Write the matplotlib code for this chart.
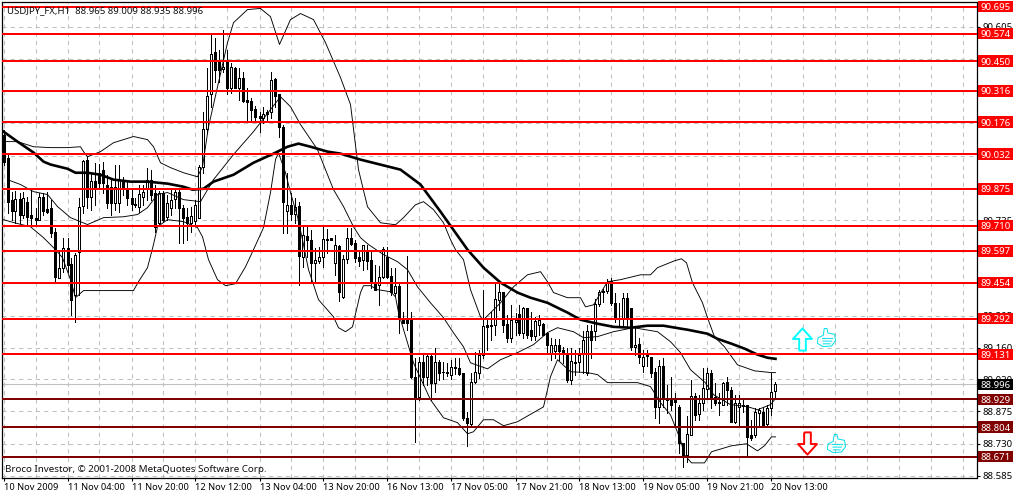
import matplotlib
matplotlib.use('Agg')
import matplotlib.pyplot as plt
from matplotlib.path import Path
from matplotlib.patches import Rectangle

# USDJPY H1 candles
opens = [90.120,90.016,89.827,89.778,89.832,89.760,89.818,89.760,89.746,89.737,
         89.841,89.787,89.791,89.683,89.476,89.521,89.611,89.539,89.399,89.593,
         89.800,90.007,89.841,89.913,89.949,89.962,89.895,89.886,89.814,89.814,
         89.908,89.872,89.836,89.809,89.796,89.841,89.877,89.917,89.859,89.724,
         89.859,89.751,89.791,89.832,89.863,89.791,89.751,89.724,89.733,89.746,
         89.976,90.147,90.300,90.493,90.457,90.416,90.452,90.327,90.421,90.331,
         90.376,90.277,90.272,90.236,90.205,90.192,90.223,90.219,90.371,90.300,
         90.155,89.778,89.805,89.764,89.800,89.570,89.665,89.647,89.543,89.552,
         89.570,89.651,89.656,89.543,89.620,89.391,89.562,89.656,89.634,89.570,
         89.557,89.593,89.557,89.454,89.445,89.481,89.570,89.485,89.408,89.440,
         89.287,89.287,89.287,89.031,88.941,89.098,89.031,89.125,89.004,89.098,
         89.053,89.053,89.040,89.071,89.071,89.049,88.846,88.819,89.008,89.049,
         89.130,89.264,89.264,89.264,89.377,89.413,89.269,89.206,89.278,89.314,
         89.228,89.341,89.242,89.215,89.264,89.269,89.228,89.139,89.148,89.175,
         89.152,89.130,89.017,89.094,89.098,89.139,89.049,89.237,89.237,89.359,
         89.413,89.418,89.463,89.364,89.296,89.291,89.386,89.341,89.166,89.179,
         89.080,89.130,89.121,89.053,88.895,89.080,88.936,88.936,88.932,88.895,
         88.733,88.679,88.770,88.945,88.864,88.914,88.977,89.049,88.941,88.918,
         88.905,89.008,88.972,88.828,88.895,88.905,88.905,88.770,88.770,88.869,
         88.873,88.819,88.891,88.965]
highs = [90.142,90.030,89.863,89.868,89.859,89.863,89.841,89.872,89.791,89.859,
         89.859,89.863,89.827,89.701,89.602,89.656,89.656,89.566,89.588,89.836,
         90.007,90.020,89.949,89.994,89.989,89.998,89.939,89.926,89.985,89.985,
         89.930,89.913,89.872,89.836,89.895,89.895,89.971,89.962,89.895,89.868,
         89.868,89.850,89.872,89.881,89.872,89.805,89.791,89.796,89.827,89.985,
         90.219,90.421,90.570,90.552,90.502,90.592,90.502,90.443,90.425,90.421,
         90.403,90.331,90.286,90.250,90.219,90.245,90.232,90.403,90.376,90.300,
         90.165,89.949,89.859,89.836,89.818,89.706,89.706,89.692,89.611,89.615,
         89.706,89.697,89.656,89.670,89.625,89.580,89.701,89.701,89.647,89.602,
         89.625,89.625,89.602,89.535,89.530,89.615,89.615,89.521,89.521,89.458,
         89.323,89.575,89.323,89.116,89.120,89.138,89.138,89.129,89.161,89.107,
         89.098,89.094,89.107,89.116,89.116,89.049,88.873,89.049,89.143,89.152,
         89.422,89.296,89.323,89.454,89.454,89.413,89.309,89.355,89.318,89.355,
         89.346,89.341,89.323,89.300,89.309,89.273,89.233,89.206,89.201,89.201,
         89.166,89.161,89.161,89.152,89.161,89.237,89.264,89.264,89.381,89.422,
         89.427,89.472,89.476,89.409,89.364,89.409,89.409,89.341,89.251,89.206,
         89.152,89.152,89.121,89.071,89.107,89.116,88.995,89.031,88.959,88.905,
         88.733,88.855,89.017,88.959,88.950,89.071,89.071,89.062,89.004,88.959,
         89.008,89.031,88.986,88.950,88.950,88.927,88.905,88.837,88.891,88.891,
         88.895,88.905,89.049,89.009]
lows = [89.985,89.769,89.737,89.724,89.724,89.746,89.715,89.715,89.715,89.737,
        89.760,89.769,89.661,89.458,89.476,89.503,89.503,89.309,89.278,89.399,
        89.769,89.791,89.782,89.805,89.881,89.859,89.791,89.760,89.782,89.773,
        89.850,89.805,89.782,89.796,89.773,89.805,89.827,89.827,89.683,89.715,
        89.728,89.737,89.760,89.791,89.633,89.633,89.647,89.683,89.715,89.746,
        89.949,90.129,90.245,90.358,90.358,90.403,90.300,90.308,90.327,90.277,
        90.268,90.178,90.178,90.183,90.133,90.174,90.178,90.196,90.245,90.111,
        89.678,89.678,89.737,89.724,89.445,89.525,89.570,89.458,89.458,89.543,
        89.525,89.588,89.647,89.490,89.373,89.386,89.543,89.625,89.548,89.530,
        89.512,89.516,89.431,89.422,89.355,89.476,89.476,89.399,89.395,89.228,
        89.273,89.242,89.026,88.738,88.927,88.995,88.995,88.927,88.963,89.017,
        89.022,89.035,89.022,89.044,89.040,88.837,88.720,88.815,89.004,89.026,
        89.116,89.152,89.197,89.219,89.332,89.233,89.188,89.188,89.219,89.219,
        89.206,89.206,89.197,89.197,89.219,89.219,89.139,89.107,89.116,89.107,
        89.094,89.008,88.999,89.040,89.053,89.049,89.040,89.116,89.197,89.350,
        89.368,89.409,89.355,89.278,89.255,89.255,89.255,89.152,89.130,89.094,
        89.053,89.080,89.031,88.846,88.823,88.895,88.869,88.882,88.806,88.689,
        88.626,88.648,88.770,88.837,88.837,88.882,88.932,88.891,88.905,88.860,
        88.905,88.905,88.828,88.823,88.806,88.873,88.675,88.747,88.761,88.814,
        88.814,88.814,88.860,88.935]
closes = [89.998,89.818,89.778,89.832,89.760,89.836,89.751,89.746,89.737,89.841,
          89.778,89.773,89.679,89.481,89.521,89.611,89.535,89.377,89.580,89.796,
          90.003,89.841,89.913,89.881,89.904,89.904,89.814,89.814,89.886,89.917,
          89.877,89.836,89.809,89.805,89.854,89.863,89.917,89.850,89.706,89.859,
          89.737,89.814,89.827,89.863,89.791,89.746,89.724,89.755,89.805,89.976,
          90.147,90.295,90.484,90.408,90.412,90.425,90.327,90.425,90.331,90.376,
          90.272,90.268,90.232,90.200,90.192,90.214,90.210,90.367,90.291,90.155,
          89.818,89.805,89.764,89.796,89.575,89.670,89.647,89.543,89.557,89.570,
          89.651,89.647,89.647,89.625,89.413,89.562,89.656,89.629,89.566,89.552,
          89.625,89.552,89.454,89.422,89.481,89.606,89.481,89.413,89.440,89.296,
          89.273,89.273,89.031,88.941,89.098,89.031,89.125,89.004,89.098,89.049,
          89.050,89.049,89.076,89.076,89.044,88.846,88.823,89.008,89.053,89.130,
          89.260,89.255,89.260,89.381,89.413,89.264,89.206,89.287,89.287,89.228,
          89.341,89.219,89.215,89.282,89.287,89.219,89.175,89.175,89.175,89.148,
          89.134,89.017,89.103,89.098,89.130,89.197,89.237,89.197,89.359,89.413,
          89.418,89.458,89.364,89.296,89.291,89.386,89.296,89.166,89.175,89.121,
          89.121,89.125,89.049,88.895,89.080,88.936,88.927,88.905,88.918,88.733,
          88.670,88.774,88.945,88.860,88.914,88.981,89.049,88.932,88.914,88.914,
          89.004,88.972,88.828,88.914,88.914,88.900,88.761,88.756,88.873,88.882,
          88.814,88.891,88.963,88.996]

# thick moving average
ma_bars = [0,3.5,7.5,10,11.75,16,18,21,24.25,27.5,31.75,36,41,45,47.25,50,52.5,57.5,62.5,67.5,71,73.75,76.75,81,84.25,
           89.25,99.25,104.25,109.25,116,120,124.25,128.5,131.75,136,141,144.25,148.5,152.5,156.75,161,165,169.25,171,
           176,178.5,182,185.25,188.5,191,193]
ma_vals = [90.133,90.088,90.039,89.998,89.985,89.966,89.948,89.948,89.939,89.917,89.908,89.908,89.899,89.885,89.872,
           89.876,89.908,89.939,89.993,90.034,90.065,90.079,90.065,90.043,90.034,90.007,89.962,89.895,89.773,89.602,
           89.521,89.454,89.409,89.386,89.363,89.319,89.287,89.269,89.255,89.251,89.260,89.260,89.247,89.242,89.224,
           89.201,89.179,89.157,89.130,89.116,89.111]

# bollinger bands
up_bars = [0,3.5,7.5,11.75,16,19.25,20,21,24.25,27.5,32.5,36,37.5,39.25,41.75,45,48.5,49.75,51.25,56,57.5,61,64.25,66.75,
           69,71.75,74.25,77.5,80.5,84.25,86.75,88.75,91,94.25,98,100,103,105,107.5,110,111.75,113,115,116.75,119.25,120,
           124.25,127.5,131,134.25,136,137.5,141,144.25,145.5,147.5,151,154.25,159.25,161.75,163.5,167.75,169.5,170.75,
           172.25,174.75,176,177.75,180.25,183.5,187.75,192,193]
up_vals = [90.088,90.088,90.065,90.061,90.061,90.065,90.043,90.020,90.043,90.083,90.111,90.097,90.065,89.993,89.971,
           89.948,89.930,89.975,90.155,90.533,90.623,90.682,90.687,90.650,90.525,90.637,90.664,90.637,90.533,90.376,
           90.255,89.962,89.795,89.723,89.714,89.746,89.804,89.818,89.782,89.723,89.647,89.602,89.557,89.422,89.300,
           89.287,89.363,89.435,89.489,89.503,89.458,89.409,89.386,89.386,89.345,89.354,89.458,89.467,89.489,89.489,
           89.521,89.552,89.561,89.543,89.453,89.363,89.296,89.210,89.165,89.084,89.057,89.049,89.049]
mid_bars = [1,4.25,7.5,11,13.5,16.75,21,25,30,33.5,36,38.5,41,45,49.25,52.5,57.5,62.5,66.75,69.25,71.75,74.25,78.5,82.5,85,
            87.5,89.25,91.25,95,98.5,101,103.5,106.75,110,112.5,115,116.75,121,124.25,128.5,132.5,136,138.5,142.5,145,
            148.5,152.5,157.5,163.5,166.75,169.25,171.75,175.5,177.5,181.75,186,188.5,191.75,193]
mid_vals = [89.917,89.895,89.863,89.850,89.796,89.746,89.715,89.746,89.750,89.760,89.791,89.850,89.859,89.827,89.818,
            89.917,90.030,90.133,90.232,90.290,90.245,90.165,90.052,89.872,89.796,89.705,89.656,89.625,89.580,89.548,
            89.512,89.435,89.363,89.296,89.228,89.165,89.093,89.066,89.107,89.139,89.175,89.229,89.251,89.233,89.206,
            89.211,89.233,89.251,89.233,89.188,89.139,89.062,89.003,88.950,88.905,88.896,88.882,88.905,88.932]
low_bars = [0,2.5,6.75,10,13,14.75,16.75,18,20,24.25,32.5,33.75,36,37.5,38.5,41,45,48.5,49.75,51.25,53.5,55.5,58,60.5,62.5,
            65,66.75,68,68.75,70.5,71.75,73.5,74.75,76.25,78.75,82.5,83.75,85.5,87.25,89.25,90,91.75,93.5,96.75,98,98.75,
            102.5,106.75,110,113.5,116,117.5,120,122.5,125,128.5,135,136.75,138.5,141.75,146,148.5,151,158.5,161.75,164.25,
            166.75,169.25,170.25,172,175.25,177,182,185.75,188.5,190.25,192,193]
low_vals = [89.737,89.724,89.705,89.656,89.602,89.566,89.467,89.386,89.418,89.418,89.418,89.458,89.521,89.625,89.705,
            89.737,89.728,89.701,89.660,89.557,89.467,89.440,89.449,89.525,89.602,89.701,89.859,90.007,90.038,89.948,
            89.859,89.750,89.647,89.512,89.377,89.300,89.251,89.233,89.255,89.409,89.440,89.440,89.422,89.413,89.390,
            89.319,89.093,88.927,88.846,88.824,88.774,88.783,88.837,88.837,88.810,88.828,88.895,89.031,89.107,89.053,
            89.049,89.040,89.004,89.004,88.986,88.914,88.859,88.747,88.679,88.643,88.643,88.693,88.720,88.729,88.697,
            88.720,88.760,88.760]

upper_levels = [90.695,90.574,90.450,90.316,90.176,90.032,89.875,89.710,89.597,89.454,89.292,89.131]
lower_levels = [88.929,88.804,88.671]
last_price = 88.996
price_ticks = [90.605,90.460,90.315,90.170,90.025,89.880,89.735,89.595,89.450,89.305,89.160,89.020,88.875,88.730,88.585]
time_labels = ['10 Nov 2009','11 Nov 04:00','11 Nov 20:00','12 Nov 12:00','13 Nov 04:00','13 Nov 20:00','16 Nov 13:00',
               '17 Nov 05:00','17 Nov 21:00','18 Nov 13:00','19 Nov 05:00','19 Nov 21:00','20 Nov 13:00']

plt.rcParams['font.family'] = ['Noto Sans', 'DejaVu Sans']
font_size = 6.9

fig = plt.figure(figsize=(10.14, 4.95), dpi=100)
ax = fig.add_axes([2 / 1014, 1 - 478 / 495, 974.5 / 1014, 476 / 495])
ax.set_xlim(-0.375, 243.25)
ax.set_ylim(88.575, 90.716)
ax.set_axisbelow(True)

# grid every 8 bars, labels every 16
ax.set_xticks(range(0, 243, 8), minor=True)
ax.set_xticks(range(0, 16 * len(time_labels), 16))
ax.set_xticklabels(time_labels, ha='left', fontsize=6.7)
ax.set_yticks(price_ticks)
ax.set_yticklabels(['%.3f' % p for p in price_ticks], fontsize=font_size)
ax.yaxis.tick_right()
ax.tick_params(axis='x', which='major', length=2, width=0.8, pad=1.5)
ax.tick_params(axis='x', which='minor', length=0)
ax.tick_params(axis='y', length=2, width=0.8, pad=2)
ax.grid(True, which='both', color='#c0c0c0', linestyle=(0, (4, 4)), linewidth=0.75)
for s in ax.spines.values():
    s.set_linewidth(0.9)

ax.axhline(last_price, color='#c0c0c0', lw=0.8, zorder=1)

# candles
for i in range(len(opens)):
    ax.vlines(i, lows[i], highs[i], color='black', lw=0.6, zorder=2, antialiased=False)
    up = closes[i] >= opens[i]
    ax.bar(i, abs(closes[i] - opens[i]), bottom=min(opens[i], closes[i]), width=0.5,
           facecolor='white' if up else 'black', edgecolor='black', lw=0.6, zorder=3, antialiased=False)

ax.plot(up_bars, up_vals, color='black', lw=0.65, zorder=4)
ax.plot(mid_bars, mid_vals, color='black', lw=0.65, zorder=4)
ax.plot(low_bars, low_vals, color='black', lw=0.65, zorder=4)
ax.plot(ma_bars, ma_vals, color='black', lw=1.9, zorder=5)


# price box to the right of the axis
def price_box(price, col):
    ax.add_patch(Rectangle((1.0015, price - 0.026), 0.0355, 0.052, transform=ax.get_yaxis_transform(),
                           facecolor=col, edgecolor='none', clip_on=False, zorder=10))
    ax.text(1.0045, price, '%.3f' % price, transform=ax.get_yaxis_transform(), va='center_baseline', ha='left',
            color='white', fontsize=font_size, zorder=11)


# support and resistance lines
for lev in upper_levels + lower_levels:
    col = '#ff0000' if lev in upper_levels else '#800000'
    ax.axhline(lev, color=col, lw=1.44, zorder=6)
    price_box(lev, col)
price_box(last_price, 'black')

# arrows and thumbs in the empty space on the right
up_arrow = [(-0.3, -1), (0.3, -1), (0.3, 0.05), (0.85, 0.05), (0, 1), (-0.85, 0.05), (-0.3, 0.05), (-0.3, -1)]
down_arrow = [(x, -y) for x, y in up_arrow]
thumb_verts = [(-0.95, -0.05), (-0.35, 0.25), (-0.25, 1.0), (0.05, 1.0), (0.15, 0.5), (0.9, 0.35), (1.0, -0.35),
               (0.55, -0.95), (-0.4, -1.0), (-1.0, -0.65), (-0.95, -0.05),
               (-0.5, -0.1), (0.75, -0.1), (-0.45, -0.4), (0.6, -0.4), (-0.4, -0.7), (0.45, -0.7)]
thumb_codes = [Path.MOVETO] + [Path.LINETO] * 10 + [Path.MOVETO, Path.LINETO] * 3
thumb = Path(thumb_verts, thumb_codes)

ax.plot(199.75, 89.202, marker=up_arrow, ms=16, mfc='white', mec='#00ffff', mew=1.4, zorder=7)
ax.plot(201, 88.733, marker=down_arrow, ms=16, mfc='white', mec='#ff0000', mew=1.4, zorder=7)
ax.plot(205.75, 89.207, marker=thumb, ms=13, mfc='none', mec='#00e0e8', mew=0.7, zorder=7)
ax.plot(208.25, 88.733, marker=thumb, ms=13, mfc='none', mec='#00e0e8', mew=0.7, zorder=7)

fig.text(7 / 1014, 1 - 10.5 / 495, 'USDJPY_FX,H1  88.965 89.009 88.935 88.996', fontsize=font_size, va='center',
         color='#101010', zorder=1)
ax.text(0.0035, 0.0185, 'Broco Investor, © 2001-2008 MetaQuotes Software Corp.', transform=ax.transAxes,
        fontsize=7.05, va='center', color='#101010', zorder=8)

fig.savefig('out.png', dpi=100)
